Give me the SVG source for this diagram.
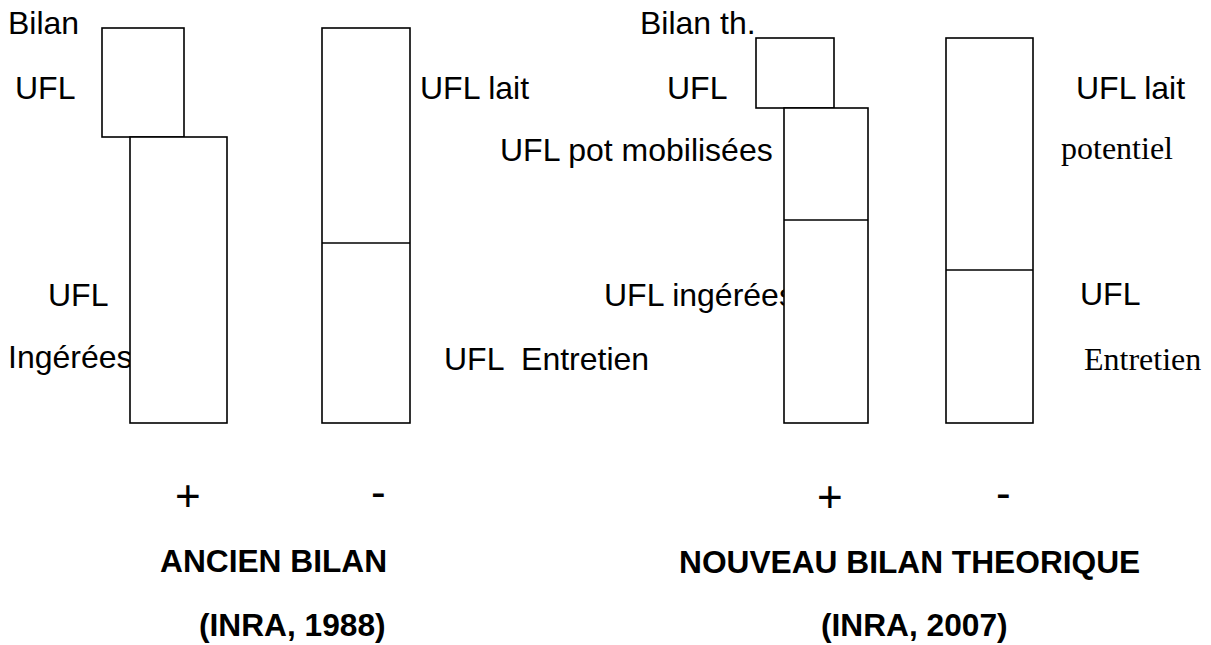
<svg xmlns="http://www.w3.org/2000/svg" width="1211" height="645" viewBox="0 0 1211 645">
<style>
.t{font-family:"Liberation Sans",Arial,sans-serif;font-size:32px;fill:#000;white-space:pre}
.s{font-family:"Liberation Serif","Times New Roman",serif;font-size:32px;fill:#000}
.b{font-family:"Liberation Sans",Arial,sans-serif;font-size:31.7px;font-weight:bold;fill:#000}
.pm{font-family:"Liberation Sans",Arial,sans-serif;font-size:44px;fill:#000}
.box{fill:#fff;stroke:#000;stroke-width:1.6}
.div{stroke:#000;stroke-width:1.6}
</style>
<rect width="1211" height="645" fill="#fff"/>
<g id="labels-left">
<text class="t" x="8" y="34">Bilan</text>
<text class="t" x="15" y="99">UFL</text>
<text class="t" x="48" y="306">UFL</text>
<text class="t" x="8" y="368">Ingérées</text>
<text class="t" x="420" y="99">UFL lait</text>
<text class="t" x="444" y="370" xml:space="preserve">UFL  Entretien</text>
</g>
<g id="labels-right">
<text class="t" x="640" y="34">Bilan th.</text>
<text class="t" x="667" y="99">UFL</text>
<text class="t" x="500" y="161">UFL pot mobilisées</text>
<text class="t" x="604" y="306">UFL ingérées</text>
<text class="t" x="1076" y="99">UFL lait</text>
<text class="s" x="1061" y="159">potentiel</text>
<text class="t" x="1080" y="305">UFL</text>
<text class="s" x="1084" y="370">Entretien</text>
</g>
<g id="old-plus">
<rect class="box" x="102" y="28" width="82" height="109"/>
<rect class="box" x="130" y="137" width="97" height="286"/>
</g>
<g id="old-minus">
<rect class="box" x="322" y="28" width="88" height="395"/>
<line class="div" x1="322" y1="243" x2="410" y2="243"/>
</g>
<g id="new-plus">
<rect class="box" x="756" y="38" width="78" height="70"/>
<rect class="box" x="784" y="108" width="84" height="315"/>
<line class="div" x1="784" y1="220" x2="868" y2="220"/>
</g>
<g id="new-minus">
<rect class="box" x="946" y="38" width="87" height="385"/>
<line class="div" x1="946" y1="270" x2="1033" y2="270"/>
</g>
<g id="captions">
<text class="pm" x="175" y="511">+</text>
<text class="pm" x="371" y="507">-</text>
<text class="b" x="160" y="572">ANCIEN BILAN</text>
<text class="b" x="199" y="636">(INRA, 1988)</text>
<text class="pm" x="817" y="512">+</text>
<text class="pm" x="996" y="508">-</text>
<text class="b" x="679" y="573">NOUVEAU BILAN THEORIQUE</text>
<text class="b" x="821" y="636">(INRA, 2007)</text>
</g>
</svg>
